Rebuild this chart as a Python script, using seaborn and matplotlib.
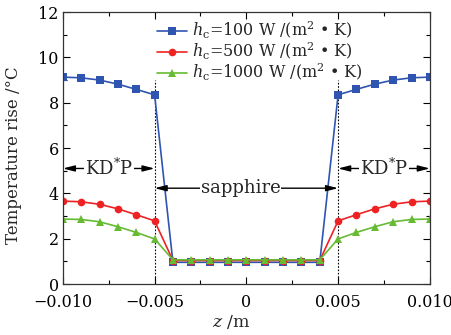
import matplotlib
matplotlib.use("Agg")
import matplotlib.pyplot as plt
import seaborn as sns
import numpy as np
import pandas as pd
from matplotlib.ticker import MultipleLocator

sns.set_style("ticks")
plt.rcParams['font.family'] = ['DejaVu Serif']
plt.rcParams['mathtext.fontset'] = 'dejavuserif'
plt.rcParams['axes.unicode_minus'] = True

z = [-0.010, -0.009, -0.008, -0.007, -0.006, -0.005,
     -0.004, -0.003, -0.002, -0.001, 0.0, 0.001, 0.002, 0.003, 0.004,
     0.005, 0.006, 0.007, 0.008, 0.009, 0.010]
t_100 = [9.13, 9.10, 9.00, 8.82, 8.59, 8.35,
         0.96, 0.96, 0.96, 0.96, 0.96, 0.96, 0.96, 0.96, 0.96,
         8.35, 8.59, 8.82, 9.00, 9.10, 9.13]
t_500 = [3.66, 3.63, 3.52, 3.32, 3.06, 2.79,
         1.04, 1.04, 1.04, 1.04, 1.04, 1.04, 1.04, 1.04, 1.04,
         2.79, 3.06, 3.32, 3.52, 3.63, 3.66]
t_1000 = [2.87, 2.85, 2.75, 2.53, 2.28, 1.99,
          1.07, 1.07, 1.07, 1.07, 1.07, 1.07, 1.07, 1.07, 1.07,
          1.99, 2.28, 2.53, 2.75, 2.85, 2.87]
labels = [r"$h_{\rm c}$=100 W /(m$^2$ • K)",
          r"$h_{\rm c}$=500 W /(m$^2$ • K)",
          r"$h_{\rm c}$=1000 W /(m$^2$ • K)"]
colors = ["#2f55b0", "#ee2222", "#66bb33"]
markers = ["s", "o", "^"]
xticks = [-0.010, -0.005, 0, 0.005, 0.010]
xticklabels = ["\u22120.010", "\u22120.005", "0", "0.005", "0.010"]
boundaries = [-0.005, 0.005]

fig = plt.figure(figsize=(4.52, 3.35), dpi=100)
ax = fig.add_axes([0.139, 0.152, 0.812, 0.812])

for vals, lab, c, m in zip([t_100, t_500, t_1000], labels, colors, markers):
    sns.lineplot(x=z, y=vals, ax=ax, color=c, marker=m, markersize=5.5,
                 markeredgewidth=0, linewidth=1.2, label=lab)

ax.set_xlim(-0.010, 0.010)
ax.set_ylim(0, 12)
ax.set_xticks(xticks)
ax.set_xticklabels(xticklabels)
ax.xaxis.set_minor_locator(MultipleLocator(0.0025))
ax.yaxis.set_major_locator(MultipleLocator(2))
ax.yaxis.set_minor_locator(MultipleLocator(1))
ax.tick_params(which='both', direction='in', top=True, right=True, labelsize=11.5, colors='black')
ax.tick_params(axis='x', which='major', pad=7)
ax.tick_params(axis='y', which='major', pad=3)
ax.tick_params(which='major', length=5, width=0.8)
ax.tick_params(which='minor', length=3, width=0.8)
for s in ax.spines.values():
    s.set_linewidth(0.9)
    s.set_color('#333333')

ax.set_xlabel(r"$z$ /m", fontsize=12.5)
ax.set_ylabel("Temperature rise /°C", fontsize=12)
ax.xaxis.set_label_coords(0.46, -0.105)
ax.yaxis.set_label_coords(-0.112, 0.474)

ax.vlines(boundaries, 0, 9.0, colors='black', linestyles=[(0, (1.5, 1.5))], linewidth=0.8, zorder=1)

arrow = dict(arrowstyle='<|-|>,head_length=0.7,head_width=0.18', color='black', lw=1.0,
             shrinkA=0, shrinkB=0)
ax.annotate("", xy=(-0.010, 5.1), xytext=(-0.005, 5.1), arrowprops=arrow, zorder=3)
ax.annotate("", xy=(0.005, 5.1), xytext=(0.010, 5.1), arrowprops=arrow, zorder=3)
ax.annotate("", xy=(-0.005, 4.23), xytext=(0.005, 4.23), arrowprops=arrow, zorder=3)
bb = dict(facecolor='white', edgecolor='none', pad=0.5)
ax.text(-0.0075, 5.1, "KD$^{*}$P", ha='center', va='center', fontsize=13, bbox=bb, zorder=4)
ax.text(0.0075, 5.1, "KD$^{*}$P", ha='center', va='center', fontsize=13, bbox=bb, zorder=4)
ax.text(-0.0003, 4.23, "sapphire", ha='center', va='center', fontsize=13, bbox=bb, zorder=4)

ax.legend(loc='upper left', bbox_to_anchor=(0.235, 1.0), frameon=False, fontsize=11.5,
          handlelength=1.9, handletextpad=0.3, labelspacing=0.0, borderaxespad=0.1)

fig.savefig("out.png", dpi=100)
